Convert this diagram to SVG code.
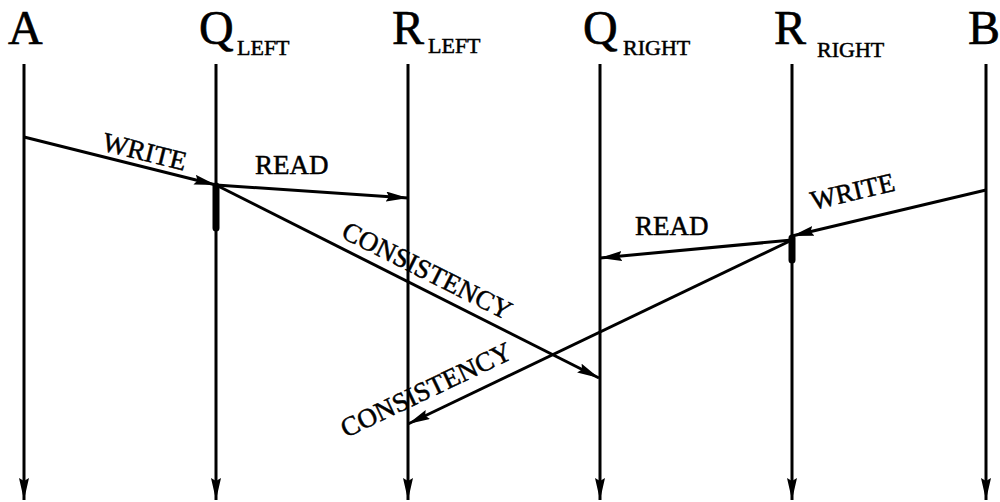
<svg xmlns="http://www.w3.org/2000/svg" width="1000" height="502" viewBox="0 0 1000 502">
<defs>
<marker id="ah" markerUnits="userSpaceOnUse" markerWidth="24" markerHeight="12" refX="22" refY="5" orient="auto">
<path d="M0,0 L22,5 L0,10 L3,5 Z" fill="#000"/>
</marker>
<style>
.ln{stroke:#000;stroke-width:3;fill:none}
.big{font-family:"Liberation Serif",serif;font-size:48px;fill:#000;stroke:#000;stroke-width:0.6}
.sub{font-family:"Liberation Serif",serif;font-size:22px;fill:#000;stroke:#000;stroke-width:0.5}
.lbl{font-family:"Liberation Serif",serif;font-size:27px;fill:#000;stroke:#000;stroke-width:0.5}
.bar{stroke:#000;stroke-width:7;stroke-linecap:round}
</style>
</defs>
<rect width="1000" height="502" fill="#fff"/>
<g id="A"><text class="big" x="8" y="44">A</text><line class="ln" x1="24" y1="64" x2="24" y2="500" marker-end="url(#ah)"/></g>
<g id="QLEFT"><text class="big" x="199" y="44">Q</text><text class="sub" x="237" y="55">LEFT</text><line class="ln" x1="216" y1="64" x2="216" y2="500" marker-end="url(#ah)"/></g>
<g id="RLEFT"><text class="big" x="392" y="44">R</text><text class="sub" x="428" y="53">LEFT</text><line class="ln" x1="408" y1="64" x2="408" y2="500" marker-end="url(#ah)"/></g>
<g id="QRIGHT"><text class="big" x="583" y="44">Q</text><text class="sub" x="623" y="55">RIGHT</text><line class="ln" x1="600" y1="64" x2="600" y2="500" marker-end="url(#ah)"/></g>
<g id="RRIGHT"><text class="big" x="774" y="44">R</text><text class="sub" x="817" y="57">RIGHT</text><line class="ln" x1="792" y1="64" x2="792" y2="500" marker-end="url(#ah)"/></g>
<g id="B"><text class="big" x="968" y="44">B</text><line class="ln" x1="986" y1="64" x2="986" y2="500" marker-end="url(#ah)"/></g>
<g id="connectors">
<line class="bar" x1="216" y1="186" x2="216" y2="228"/>
<line class="bar" x1="792" y1="238" x2="792" y2="260"/>
<line class="ln" x1="24" y1="137" x2="216" y2="185" marker-end="url(#ah)"/>
<line class="ln" x1="216" y1="185" x2="408" y2="198" marker-end="url(#ah)"/>
<line class="ln" x1="216" y1="185" x2="599" y2="378" marker-end="url(#ah)"/>
<line class="ln" x1="986" y1="190" x2="792" y2="236" marker-end="url(#ah)"/>
<line class="ln" x1="792" y1="240" x2="600" y2="258" marker-end="url(#ah)"/>
<line class="ln" x1="792" y1="240" x2="408" y2="424" marker-end="url(#ah)"/>
<text class="lbl" transform="translate(101,150) rotate(14)">WRITE</text>
<text class="lbl" x="255" y="174">READ</text>
<text class="lbl" transform="translate(340,237) rotate(26.7)">CONSISTENCY</text>
<text class="lbl" transform="translate(813,210) rotate(-13.3)">WRITE</text>
<text class="lbl" x="635" y="235">READ</text>
<text class="lbl" transform="translate(346,438) rotate(-25.5)">CONSISTENCY</text>
</g>
</svg>
